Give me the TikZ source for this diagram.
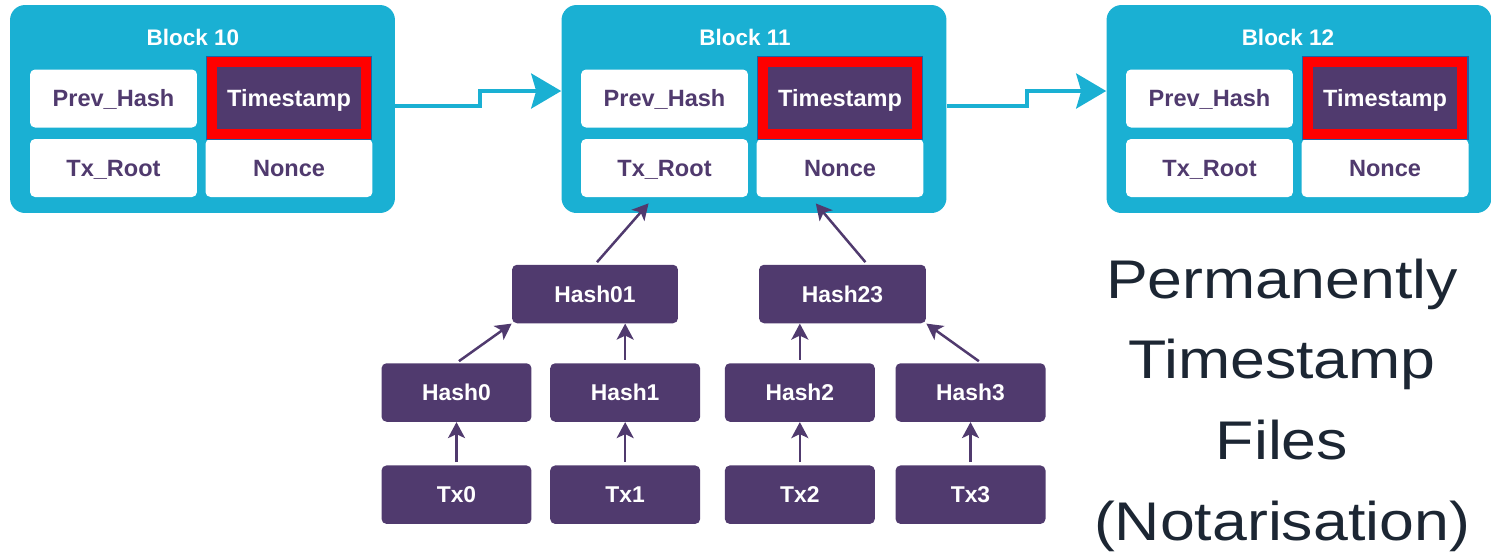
\documentclass[tikz,border=0pt]{standalone}
\usepackage{fontspec}
\setmainfont{Liberation Sans}
\newfontfamily\notefont[FakeStretch=1.15]{Liberation Sans}
\usepackage{xcolor}
\definecolor{colorBlock}{RGB}{26,176,211}
\definecolor{colorHash}{RGB}{80,58,110}
\definecolor{colorMark}{RGB}{255,0,0}
\definecolor{colorRim}{RGB}{31,96,166}
\definecolor{colorNote}{RGB}{28,38,51}
\usepackage{tikz}
\usetikzlibrary{arrows.meta, positioning}
\tikzset{
  block/.style={rectangle, rounded corners=0.3cm, fill=colorBlock, minimum width=7.7cm, minimum height=4.16cm},
  title/.style={text=white, text height=9.2pt, text depth=0pt, font=\fontsize{12.8}{15}\selectfont\bfseries},
  field/.style={rectangle, rounded corners=0.1cm, fill=white, text=colorHash, minimum width=3.34cm, minimum height=1.16cm, inner sep=0pt, text height=9.5pt, text depth=0pt, font=\fontsize{13.4}{15}\selectfont\bfseries},
  stamp/.style={rectangle, fill=colorHash, draw=colorMark, line width=0.2cm, preaction={draw=colorRim, line width=0.26cm}, minimum width=3.08cm, minimum height=1.44cm, inner sep=0pt, text=white, text height=9.5pt, text depth=0pt, font=\fontsize{13.4}{15}\selectfont\bfseries},
  hash/.style={rectangle, rounded corners=0.1cm, fill=colorHash, text=white, minimum width=3cm, minimum height=1.17cm, inner sep=0pt, text height=9.3pt, text depth=0pt, font=\fontsize{13}{15}\selectfont\bfseries},
  link/.style={-{Stealth[length=0.6cm, width=0.7cm, inset=0.1cm]}, colorBlock, line width=0.075cm},
  up/.style={->, colorHash, line width=0.05cm, shorten <=0.06cm},
  note/.style={align=center, text=colorNote, font=\notefont\fontsize{31}{45.9}\selectfont}
}

\begin{document}
\begin{tikzpicture}[x=0.02cm, y=-0.02cm, >={Stealth[length=0.32cm, width=0.34cm, inset=0.08cm]}, node distance=0.86cm and 0.36cm]
\useasboundingbox (0,0) rectangle (1491,552);

% the chain of blocks
\node[block] (b10) at (202.5,109) {};
\node[title] (t10) at (193,37) {Block 10};
\node[field] (prev10) at (113.5,98.5) {Prev\_Hash};
\node[field] (root10) at (113.5,168) {Tx\_Root};
\node[field] (nonce10) at (289,168) {Nonce};
\node[stamp] (ts10) at (289,98) {Timestamp};

\node[block] (b11) at (754,109) {};
\node[title] (t11) at (745,37) {Block 11};
\node[field] (prev11) at (664.5,98.5) {Prev\_Hash};
\node[field] (root11) at (664.5,168) {Tx\_Root};
\node[field] (nonce11) at (840,168) {Nonce};
\node[stamp] (ts11) at (840,98) {Timestamp};

\node[block] (b12) at (1299,109) {};
\node[title] (t12) at (1288,37) {Block 12};
\node[field] (prev12) at (1209.5,98.5) {Prev\_Hash};
\node[field] (root12) at (1209.5,168) {Tx\_Root};
\node[field] (nonce12) at (1385,168) {Nonce};
\node[stamp] (ts12) at (1385,98) {Timestamp};

\draw[link] ([yshift=0.06cm]b10.east) -- ++(85,0) |- ([yshift=0.36cm]b11.west);
\draw[link] ([yshift=0.06cm]b11.east) -- ++(80,0) |- ([yshift=0.36cm]b12.west);

% merkle tree under block 11
\node[hash] (hash0) at (456.5,392.5) {Hash0};
\node[hash, right=of hash0] (hash1) {Hash1};
\node[hash, right=0.48cm of hash1] (hash2) {Hash2};
\node[hash, right=0.4cm of hash2] (hash3) {Hash3};
\node[hash, below=of hash0] (tx0) {Tx0};
\node[hash, below=of hash1] (tx1) {Tx1};
\node[hash, below=of hash2] (tx2) {Tx2};
\node[hash, below=of hash3] (tx3) {Tx3};
\node[hash, minimum width=3.32cm] (hash01) at (595,294) {Hash01};
\node[hash, minimum width=3.34cm] (hash23) at (842.5,294) {Hash23};

\draw[up] (tx0) -- (hash0);
\draw[up] (tx1) -- (hash1);
\draw[up] (tx2) -- (hash2);
\draw[up] (tx3) -- (hash3);
\draw[up] (hash0.north) -- (hash01.south west);
\draw[up] (hash1) -- (hash1 |- hash01.south);
\draw[up] (hash2) -- (hash2 |- hash23.south);
\draw[up] (hash3.70) -- (hash23.south east);
\draw[up, shorten >=0.16cm] (hash01.north) -- (root11.250);
\draw[up, shorten >=0.16cm] (hash23.50) -- (nonce11.225);

\node[note] (note) at (1282,405) {Permanently\\Timestamp\\Files\\(Notarisation)};
\end{tikzpicture}
\end{document}
